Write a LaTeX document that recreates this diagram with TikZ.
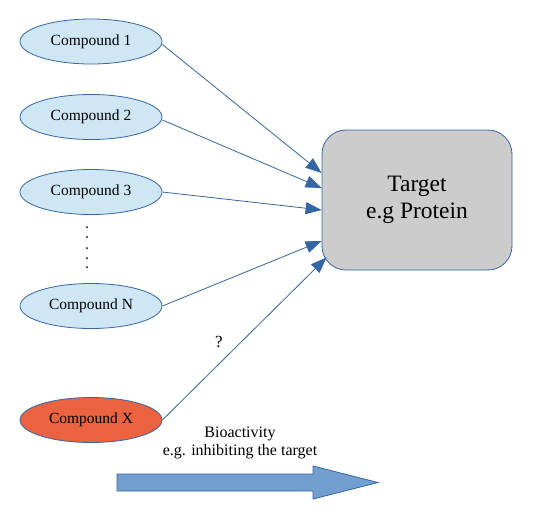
\documentclass[tikz,border=0pt]{standalone}
\usepackage{fontspec}
\setmainfont{Liberation Serif}
\usetikzlibrary{shapes.geometric,arrows.meta}
\definecolor{edgeblue}{RGB}{52,101,164}
\definecolor{paleblue}{RGB}{207,231,245}
\definecolor{redorange}{RGB}{234,98,64}
\definecolor{boxgray}{RGB}{204,204,204}
\definecolor{arrowblue}{RGB}{114,159,207}
\tikzset{
  compound/.style={ellipse,draw=edgeblue,line width=0.8pt,fill=paleblue,minimum width=142pt,minimum height=45pt,inner sep=0pt,font=\fontsize{15.5}{18}\selectfont},
  targetbox/.style={rectangle,rounded corners=24pt,draw=edgeblue,line width=0.8pt,fill=boxgray,minimum width=190pt,minimum height=140pt,align=center,font=\fontsize{23.5}{27}\selectfont},
  link/.style={draw=edgeblue,line width=0.8pt,-{Triangle[length=16pt,width=12pt]}},
  dotmark/.style={circle,fill=black,inner sep=0pt,minimum size=2pt}
}
\begin{document}
\begin{tikzpicture}[x=1pt,y=-1pt]
\useasboundingbox (0,0) rectangle (536,531);
\node[compound] (c1) at (91,41.5) {Compound 1};
\node[compound] (c2) at (91,117) {Compound 2};
\node[compound] (c3) at (91,192) {Compound 3};
\node[compound] (cN) at (91,306) {Compound N};
\node[compound,fill=redorange] (cX) at (91,420) {Compound X};
\foreach \i/\yy in {1/227,2/237,3/248,4/258,5/267}
  \node[dotmark] (d\i) at (87,\yy) {};
\node[targetbox] (target) at (417,200) {Target\\e.g Protein};
\coordinate (t1) at ([yshift=27pt]target.west);
\coordinate (t2) at ([yshift=12pt]target.west);
\coordinate (t3) at ([yshift=-10pt]target.west);
\coordinate (t4) at ([yshift=-41pt]target.west);
\coordinate (t5) at ([xshift=5pt,yshift=13pt]target.south west);
\coordinate (s1) at ([yshift=-3pt]c1.east);
\coordinate (s2) at ([yshift=-3pt]c2.east);
\draw[link] (s1) -- (t1);
\draw[link] (s2) -- (t2);
\draw[link] (c3.east) -- (t3);
\draw[link] (cN.east) -- (t4);
\draw[link] (cX.east) -- (t5);
\node[font=\fontsize{17}{20}\selectfont] (q) at (219,342) {?};
\node[align=center,font=\fontsize{16}{18}\selectfont] (bio) at (240,443) {Bioactivity\\e.g. inhibiting the target};
\draw[draw=edgeblue,line width=0.8pt,fill=arrowblue] (117,474) -- (313,474) -- (313,466) -- (378,482.5) -- (313,499) -- (313,491) -- (117,491) -- cycle;
\end{tikzpicture}
\end{document}
